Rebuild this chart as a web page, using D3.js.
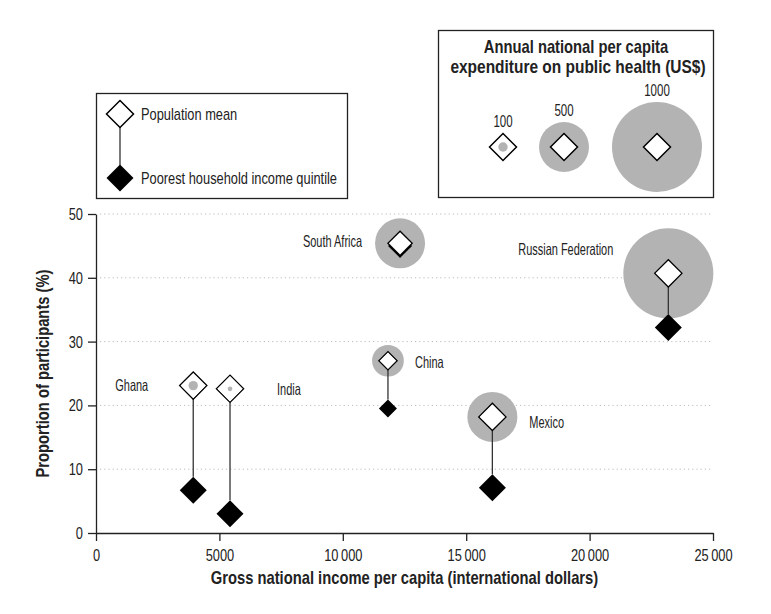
<!DOCTYPE html>
<html>
<head>
<meta charset="utf-8">
<script src="https://cdn.jsdelivr.net/npm/d3@7"></script>
<style>
  body { margin: 0; background: #fff; }
  svg text { font-family: "Liberation Sans", Arial, sans-serif; fill: #222; }
  .grid line { stroke: #bbb; stroke-dasharray: 1.2 3; }
  .axis path, .axis line { stroke: #222; stroke-width: 1.3; }
  .axis text { font-size: 17px; }
  .lbl { font-size: 17px; }
  .country { font-size: 16.5px; }
  .num { font-size: 16px; }
  .title { font-size: 18px; font-weight: bold; }
</style>
</head>
<body>
<div id="chart"></div>
<script>
// values
const countries = ["Ghana", "India", "China", "South Africa", "Mexico", "Russian Federation"]
const gni = [3940, 5430, 11830, 12320, 16060, 23190]
const meanPct = [23.1, 22.6, 27.0, 45.4, 18.2, 40.7]
const poorPct = [6.7, 3.0, 19.5, 45.0, 7.1, 32.2]
const healthSpend = [100, 50, 320, 500, 500, 1000]
const legendSpend = [100, 500, 1000]
const xTicks = [0, 5000, 10000, 15000, 20000, 25000]
const yTicks = [0, 10, 20, 30, 40, 50]

// label placement relative to the mean diamond
const labelPos = {
    "Ghana": {dx: -45, dy: 0, anchor: "end"},
    "India": {dx: 47, dy: 0, anchor: "start"},
    "China": {dx: 27, dy: 1, anchor: "start"},
    "South Africa": {dx: -38, dy: -2, anchor: "end"},
    "Mexico": {dx: 37, dy: 5, anchor: "start"},
    "Russian Federation": {dx: -55, dy: -24, anchor: "end"}
}
const diamondSize = {"China": 9, "South Africa": 12}

// no condensed font installed, so squeeze glyphs horizontally
const NARROW = 0.755
const NARROWER = 0.665
const NARROW_NUM = 0.72
const NARROW_BOLD = 0.82

document.addEventListener("DOMContentLoaded", draw)

function diamond(h) {
    return `M0,${-h}L${h},0L0,${h}L${-h},0Z`
}

function squeeze(sel, s) {
    sel.each(function () {
        const t = d3.select(this)
        const x = +(t.attr("x") || 0)
        t.attr("x", x / s)
        const tr = t.attr("transform") || ""
        t.attr("transform", tr + ` scale(${s},1)`)
    })
}

function draw() {
    const width = 771
    const height = 614
    const svg = d3.select("#chart").append("svg")
        .attr("width", width)
        .attr("height", height)

    const x = d3.scaleLinear().domain([0, 25000]).range([96, 713])
    const y = d3.scaleLinear().domain([0, 50]).range([533, 214])
    const r = d3.scaleLinear().domain([0, 100, 500, 1000]).range([0, 4.7, 25, 45])
    const fmt = v => v >= 10000 ? d3.format(",")(v).replace(",", "\u2009") : String(v)

    // dotted gridlines
    svg.append("g").attr("class", "grid")
        .selectAll("line")
        .data(yTicks.filter(v => v > 0))
        .enter().append("line")
        .attr("x1", x(0) + 4).attr("x2", x(25000))
        .attr("y1", d => y(d)).attr("y2", d => y(d))

    svg.append("g").attr("class", "axis")
        .attr("transform", "translate(0," + y(0) + ")")
        .call(d3.axisBottom(x).tickValues(xTicks).tickSize(8).tickSizeOuter(0).tickFormat(fmt))
        .call(g => g.selectAll("text").attr("dy", "1.0em"))
    svg.append("g").attr("class", "axis")
        .attr("transform", "translate(" + x(0) + ",0)")
        .call(d3.axisLeft(y).tickValues(yTicks).tickSize(8).tickSizeOuter(0))
        .call(g => g.selectAll("text").attr("x", -13))
    svg.selectAll(".axis .domain").attr("stroke", "#222")
    svg.selectAll(".axis text").attr("fill", "#222")
    squeeze(svg.selectAll(".axis text"), NARROW)

    svg.append("text").attr("class", "title")
        .attr("x", (x(0) + x(25000)) / 2).attr("y", 584)
        .attr("text-anchor", "middle")
        .text("Gross national income per capita (international dollars)")
        .call(squeeze, NARROW_BOLD)
    svg.append("text").attr("class", "title")
        .attr("transform", "translate(49," + (y(0) + y(50)) / 2 + ") rotate(-90)")
        .attr("text-anchor", "middle")
        .text("Proportion of participants (%)")
        .call(squeeze, NARROW_BOLD)

    const data = countries.map((c, i) => ({
        name: c, gni: gni[i], mean: meanPct[i], poor: poorPct[i], spend: healthSpend[i],
        h: diamondSize[c] || 13.5
    }))

    svg.append("g").selectAll("circle")
        .data(data).enter().append("circle")
        .attr("cx", d => x(d.gni)).attr("cy", d => y(d.mean))
        .attr("r", d => r(d.spend))
        .attr("fill", "#b3b3b3")

    svg.append("g").selectAll("line")
        .data(data.filter(d => y(d.poor) - y(d.mean) > 2 * d.h)).enter().append("line")
        .attr("x1", d => x(d.gni)).attr("x2", d => x(d.gni))
        .attr("y1", d => y(d.mean) + d.h).attr("y2", d => y(d.poor) - d.h)
        .attr("stroke", "#333").attr("stroke-width", 1.3)

    svg.append("g").selectAll("path")
        .data(data).enter().append("path")
        .attr("transform", d => `translate(${x(d.gni)},${y(d.poor)})`)
        .attr("d", d => diamond(d.h))
        .attr("fill", "#000")

    svg.append("g").selectAll("path")
        .data(data).enter().append("path")
        .attr("transform", d => `translate(${x(d.gni)},${y(d.mean)})`)
        .attr("d", d => diamond(d.h))
        .attr("fill", "none").attr("stroke", "#000").attr("stroke-width", 1.5)
    // small spend dots sit inside the white diamond
    svg.append("g").selectAll("path")
        .data(data).enter().append("path")
        .attr("transform", d => `translate(${x(d.gni)},${y(d.mean)})`)
        .attr("d", d => diamond(d.h - 0.8))
        .attr("fill", "#fff")
    svg.append("g").selectAll("circle")
        .data(data.filter(d => r(d.spend) < d.h * 0.6)).enter().append("circle")
        .attr("cx", d => x(d.gni)).attr("cy", d => y(d.mean))
        .attr("r", d => r(d.spend))
        .attr("fill", "#b3b3b3")

    svg.append("g").selectAll("text")
        .data(data).enter().append("text")
        .attr("class", "country")
        .attr("x", d => x(d.gni) + labelPos[d.name].dx)
        .attr("y", d => y(d.mean) + labelPos[d.name].dy)
        .attr("dy", "0.35em")
        .attr("text-anchor", d => labelPos[d.name].anchor)
        .text(d => d.name)
        .call(squeeze, NARROWER)

    // legend: markers
    const lg1 = svg.append("g")
    lg1.append("rect").attr("x", 96.5).attr("y", 93.5).attr("width", 251).attr("height", 105)
        .attr("fill", "#fff").attr("stroke", "#222").attr("stroke-width", 1.3)
    lg1.append("line").attr("x1", 120).attr("x2", 120).attr("y1", 127).attr("y2", 165)
        .attr("stroke", "#333").attr("stroke-width", 1.3)
    lg1.append("path").attr("transform", "translate(120,114)").attr("d", diamond(13.5))
        .attr("fill", "#fff").attr("stroke", "#000").attr("stroke-width", 1.5)
    lg1.append("path").attr("transform", "translate(120,178)").attr("d", diamond(13.5))
        .attr("fill", "#000")
    lg1.append("text").attr("class", "lbl").attr("x", 141).attr("y", 114).attr("dy", "0.35em")
        .text("Population mean").call(squeeze, NARROW)
    lg1.append("text").attr("class", "lbl").attr("x", 141).attr("y", 178).attr("dy", "0.35em")
        .text("Poorest household income quintile").call(squeeze, NARROW)

    // legend: spending circles
    const lg2 = svg.append("g")
    lg2.append("rect").attr("x", 438.5).attr("y", 30.5).attr("width", 275).attr("height", 167)
        .attr("fill", "#fff").attr("stroke", "#222").attr("stroke-width", 1.3)
    lg2.append("text").attr("class", "title").attr("x", 576).attr("y", 53).attr("text-anchor", "middle")
        .text("Annual national per capita").call(squeeze, NARROW_BOLD)
    lg2.append("text").attr("class", "title").attr("x", 578).attr("y", 73).attr("text-anchor", "middle")
        .text("expenditure on public health (US$)").call(squeeze, 0.86)
    const lx = d3.scaleOrdinal().domain(legendSpend).range([503, 564, 657])
    const items = lg2.selectAll("g.item").data(legendSpend).enter().append("g")
        .attr("transform", d => `translate(${lx(d)},147)`)
    items.filter(d => r(d) > 13.5).append("circle").attr("r", d => r(d)).attr("fill", "#b3b3b3")
    items.append("path").attr("d", diamond(13.5))
        .attr("fill", "#fff").attr("stroke", "#000").attr("stroke-width", 1.5)
    items.filter(d => r(d) <= 13.5).append("circle").attr("r", d => r(d)).attr("fill", "#b3b3b3")
    items.append("text").attr("class", "num").attr("text-anchor", "middle")
        .attr("y", d => -Math.max(r(d), 13.5) - 12)
        .attr("dy", "0.35em")
        .text(d => d)
        .call(squeeze, NARROW_NUM)
}
</script>
</body>
</html>
